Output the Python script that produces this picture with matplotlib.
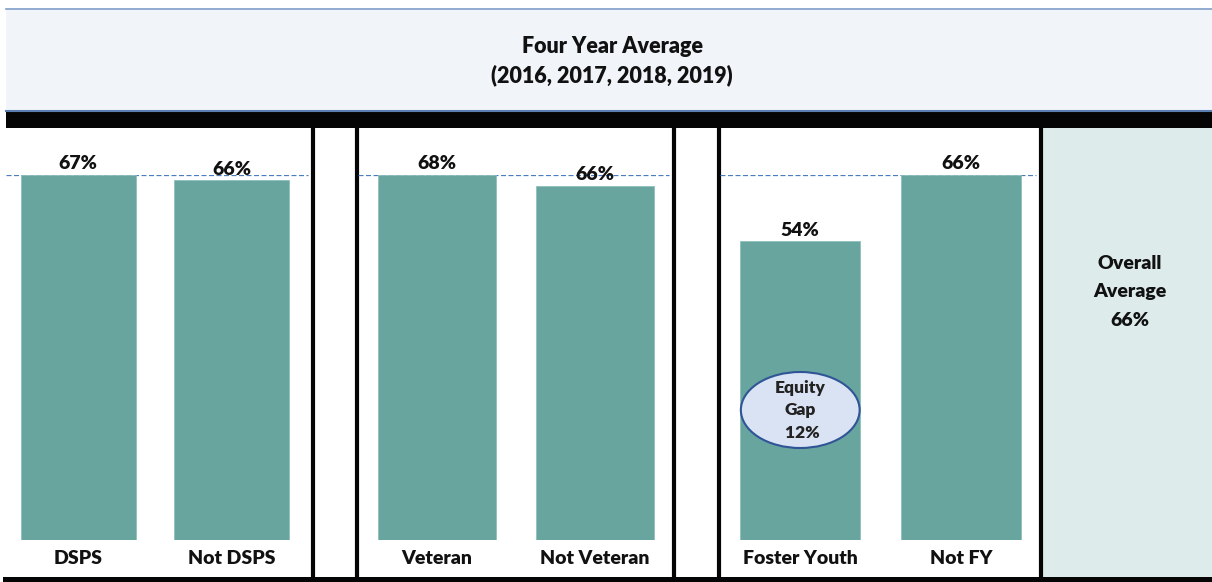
import numpy as np
import matplotlib.pyplot as plt
from matplotlib.patches import Rectangle, Ellipse

plt.rcParams['font.family'] = ['Lato', 'DejaVu Sans']
WT = 'heavy'

# data
title = 'Four Year Average\n(2016, 2017, 2018, 2019)'
groups = [['DSPS', 'Not DSPS'], ['Veteran', 'Not Veteran'], ['Foster Youth', 'Not FY']]
values = [[67, 66], [68, 66], [54, 66]]
overall = 66

bar_color = '#68a59f'
W, H = 1212, 582

fig = plt.figure(figsize=(W / 100, H / 100), dpi=100)

# background axes in pixel coords for frame pieces
bg = fig.add_axes([0, 0, 1, 1])
bg.set_xlim(0, W)
bg.set_ylim(H, 0)
bg.axis('off')

# title box
bg.add_patch(Rectangle((6, 8), W - 6, 103, facecolor='#f1f5fa', edgecolor='none'))
bg.plot([6, W], [8.5, 8.5], color='#7f9fc8', lw=1.2)
bg.plot([6, W], [111, 111], color='#5b7fb0', lw=1.5)
bg.text(612, 61, title, ha='center', va='center', fontsize=15.5,
        fontweight=WT, linespacing=1.45, color='#111111')
# black band + bottom line
bg.add_patch(Rectangle((6, 112), W - 6, 16, facecolor='#050505', edgecolor='none'))
bg.add_patch(Rectangle((3, 577), W - 3, 5, facecolor='#050505', edgecolor='none'))
# overall panel
bg.add_patch(Rectangle((1042, 128), W - 1042, 449, facecolor='#ddebeb', edgecolor='none'))
bg.text(1130, 292, 'Overall\nAverage\n%d%%' % overall, ha='center', va='center',
        fontsize=14, fontweight=WT, linespacing=1.8, color='#111111')
for xv in [313, 357, 674, 719, 1041]:
    bg.plot([xv, xv], [128, 578], color='#050505', lw=3)

panels = [(6, 313, -0.47), (358, 674, -0.5), (720, 1041, -0.5)]
y_bot, y_top = 540, 175

for (x0, x1, xl), names, vals in zip(panels, groups, values):
    ax = fig.add_axes([x0 / W, (H - y_bot) / H, (x1 - x0) / W, (y_bot - y_top) / H])
    ax.patch.set_alpha(0)
    top = max(vals)
    ax.set_xlim(xl, xl + 2)
    ax.set_ylim(0, top)
    xs = np.arange(len(vals))
    ax.axhline(top, xmin=0.0, xmax=0.985, color='#4a7cc0', lw=0.9, ls=(0, (4, 2)), zorder=1)
    ax.bar(xs, vals, width=0.75, color=bar_color, edgecolor='#8fc0bb', lw=0.6, zorder=2)
    for x, v in zip(xs, vals):
        ax.annotate('%d%%' % v, (x, v), xytext=(0, 2), textcoords='offset points',
                    ha='center', va='bottom', fontsize=14, fontweight=WT,
                    color='#111111', annotation_clip=False, zorder=3)
    ax.set_xticks(xs)
    ax.set_xticklabels(names, fontsize=14, fontweight=WT, color='#111111')
    ax.tick_params(axis='x', length=0, pad=7)
    ax.set_yticks([])
    for s in ax.spines.values():
        s.set_visible(False)
    if names[0] == 'Foster Youth':
        gap = vals[1] - vals[0]
        ax.add_patch(Ellipse((0, top * (540 - 410) / 365), 0.74, top * 76 / 365,
                             facecolor='#dae3f3', edgecolor='#2f5597', lw=1.5, zorder=4))
        ax.text(0, top * (540 - 410) / 365, 'Equity\nGap\n %d%%' % gap, ha='center',
                va='center', fontsize=12.5, fontweight=WT, linespacing=1.5,
                color='#222222', zorder=5)

plt.savefig('out.png', dpi=100)
